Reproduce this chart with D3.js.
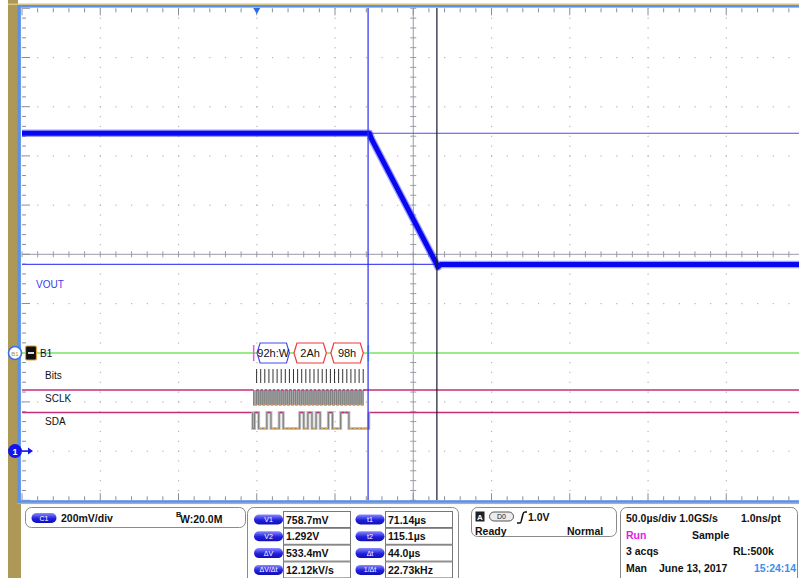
<!DOCTYPE html>
<html>
<head>
<meta charset="utf-8">
<script src="https://cdn.jsdelivr.net/npm/d3@7"></script>
<style>
body{margin:0;background:#fff}
svg{display:block;font-family:"Liberation Sans",Arial,sans-serif}
</style>
</head>
<body>
<div class="interactive-wrapper"></div>
<script>

// VOUT trace (time in µs, volts)
const voutTime  = [-150, 72.0, 73.4, 114.8, 115.7, 117.6, 350]
const voutVolts = [1.292, 1.292, 1.268, 0.762, 0.748, 0.7587, 0.7587]

const cursorTimes = [71.14, 115.1]
const cursorVolts = [0.7587, 1.292]

// I2C bus B1
const busLabels = ["92h:W", "2Ah", "98h"]
const busColors = ["#4a4af0", "#f03a3a", "#f03a3a"]
const sdaBits = [1,0,0,1,0,0,1,0,0, 0,0,1,0,1,0,1,0,0, 1,0,0,1,1,0,0,0,0]
const busStart = -2.6, firstBit = -1.4, bitPeriod = 2.62, busStop = 71.6

const measLeft  = [["V1", "758.7mV"], ["V2", "1.292V"], ["ΔV", "533.4mV"], ["ΔV/Δt", "12.12kV/s"]]
const measRight = [["t1", "71.14µs"], ["t2", "115.1µs"], ["Δt", "44.0µs"], ["1/Δt", "22.73kHz"]]

const timeTicks = d3.range(0, 11).map(i => -150 + i * 50)
const voltTicks = d3.range(0, 11).map(i => -0.2 + i * 0.2)

let width = 799
let height = 578

let x = d3.scaleLinear().domain([-150, 350]).range([22, 804.5])
let y = d3.scaleLinear().domain([-0.2, 1.8]).range([500.3, 8.3])

let svg = d3.select(".interactive-wrapper").append('svg')
.attr('width', width)
.attr('height', height)

let defs = svg.append('defs')
let grad = defs.append('linearGradient').attr('id', 'pill').attr('x1', 0).attr('y1', 0).attr('x2', 0).attr('y2', 1)
grad.append('stop').attr('offset', '0%').attr('stop-color', '#8a8aff')
grad.append('stop').attr('offset', '55%').attr('stop-color', '#2020e0')
grad.append('stop').attr('offset', '100%').attr('stop-color', '#1010b0')

// frame
svg.append('rect').attr('x', 8).attr('y', 0).attr('width', 10).attr('height', height).style('fill', '#ae9858')
svg.append('rect').attr('x', 8).attr('y', 503).attr('width', 13).attr('height', 75).style('fill', '#ae9858')
svg.append('rect').attr('x', 8).attr('y', 3.5).attr('width', width).attr('height', 1.6).style('fill', '#d6c582')
svg.append('rect').attr('x', 17).attr('y', 502.5).attr('width', width).attr('height', 1.6).style('fill', '#d9a860')

let grid = svg.append('g')

let minorT = d3.range(0, 51).map(i => -150 + i * 10)
let minorV = d3.range(0, 51).map(i => -0.2 + i * 0.04)

// dotted rows / columns
timeTicks.slice(1, -1).filter(t => t !== 100).forEach(t => {
	grid.selectAll(null)
	.data(minorV)
	.enter()
	.append('rect')
	.attr('x', x(t) - 0.5)
	.attr('y', d => y(d) - 0.5)
	.attr('width', 1.2)
	.attr('height', 1.2)
	.style('fill', '#b4b4bc')
})

voltTicks.slice(1, -1).filter(v => Math.abs(v - 0.8) > 0.01).forEach(v => {
	grid.selectAll(null)
	.data(minorT)
	.enter()
	.append('rect')
	.attr('x', d => x(d) - 0.5)
	.attr('y', y(v) - 0.5)
	.attr('width', 1.2)
	.attr('height', 1.2)
	.style('fill', '#b4b4bc')
})

// centre cross
grid.append('line').attr('x1', x(-150)).attr('x2', x(350)).attr('y1', y(0.8)).attr('y2', y(0.8)).style('stroke', '#9a9ca6')
grid.append('line').attr('x1', x(100)).attr('x2', x(100)).attr('y1', y(1.8)).attr('y2', y(-0.2)).style('stroke', '#9a9ca6')

grid.selectAll('.ct')
.data(minorT)
.enter()
.append('line')
.attr('x1', d => x(d)).attr('x2', d => x(d))
.attr('y1', y(0.8) - 3).attr('y2', y(0.8) + 3)
.style('stroke', '#9a9ca6')

grid.selectAll('.cv')
.data(minorV)
.enter()
.append('line')
.attr('x1', x(100) - 3).attr('x2', x(100) + 3)
.attr('y1', d => y(d)).attr('y2', d => y(d))
.style('stroke', '#9a9ca6')

// border ticks
let isMajorT = d => Math.abs((d + 150) % 50) < 0.01
let isMajorV = d => Math.abs(Math.round(d * 5) - d * 5) < 0.01

grid.selectAll('.tt')
.data(minorT)
.enter()
.append('line')
.attr('x1', d => x(d)).attr('x2', d => x(d))
.attr('y1', y(1.8)).attr('y2', d => y(1.8) + (isMajorT(d) ? 7 : 4))
.style('stroke', '#8a8e98')

grid.selectAll('.bt')
.data(minorT)
.enter()
.append('line')
.attr('x1', d => x(d)).attr('x2', d => x(d))
.attr('y1', y(-0.2)).attr('y2', d => y(-0.2) - (isMajorT(d) ? 7 : 4))
.style('stroke', '#8a8e98')

grid.selectAll('.lt')
.data(minorV)
.enter()
.append('line')
.attr('x1', x(-150)).attr('x2', d => x(-150) + (isMajorV(d) ? 8 : 4))
.attr('y1', d => y(d)).attr('y2', d => y(d))
.style('stroke', '#8a8e98')

// blue graticule border
svg.append('rect').attr('x', 17.5).attr('y', 5).attr('width', width).attr('height', 2.6).style('fill', '#5a92ea')
svg.append('rect').attr('x', 17.5).attr('y', 5).attr('width', 3.4).attr('height', 498).style('fill', '#5a92ea')
svg.append('rect').attr('x', 17.5).attr('y', 500.2).attr('width', width).attr('height', 2.6).style('fill', '#5a92ea')

// cursors
svg.selectAll('.hc')
.data(cursorVolts)
.enter()
.append('line')
.attr('x1', x(-150)).attr('x2', width)
.attr('y1', d => y(d)).attr('y2', d => y(d))
.style('stroke', '#4c4cf4')
.style('stroke-width', 1.2)

// VOUT trace
let trace = voutTime.map((t, i) => [t, voutVolts[i]])
let line = d3.line().x(d => x(d[0])).y(d => y(d[1]))

svg.append('path')
.attr('d', line(trace))
.style('fill', 'none')
.style('stroke', '#2a2aff')
.style('stroke-opacity', 0.45)
.style('stroke-width', 7.5)
.style('stroke-linejoin', 'round')

svg.append('path')
.attr('d', line(trace))
.style('fill', 'none')
.style('stroke', '#0808f0')
.style('stroke-width', 5)
.style('stroke-linejoin', 'round')

svg.append('text').attr('x', 36).attr('y', 288).text('VOUT')
.style('font-size', '10px').style('fill', '#3a3af0')

// bus B1
let busY = 353
let bitX = i => x(firstBit + i * bitPeriod)

svg.append('line').attr('x1', x(-150)).attr('x2', width).attr('y1', busY).attr('y2', busY)
.style('stroke', '#9aea8a').style('stroke-width', 2)

svg.append('line').attr('x1', x(busStart) + 1).attr('x2', x(busStart) + 1).attr('y1', busY - 8).attr('y2', busY + 8)
.style('stroke', '#e858e8').style('stroke-width', 1.5)
svg.append('line').attr('x1', x(busStop) - 0.5).attr('x2', x(busStop) - 0.5).attr('y1', busY - 8).attr('y2', busY + 8)
.style('stroke', '#6ee8f0').style('stroke-width', 2)

busLabels.forEach((label, j) => {
	let x0 = bitX(j * 9) + 2.5
	let x1 = bitX(j * 9 + 9) - 2
	let c = 3
	let g = svg.append('g')
	g.append('path')
	.attr('d', `M${x0},${busY} L${x0 + c},${busY - 10} L${x1 - c},${busY - 10} L${x1},${busY} L${x1 - c},${busY + 10} L${x0 + c},${busY + 10} Z`)
	.style('fill', '#fff')
	.style('stroke', busColors[j])
	.style('stroke-width', 1.2)
	g.append('text')
	.attr('x', (x0 + x1) / 2).attr('y', busY + 4)
	.attr('text-anchor', 'middle')
	.text(label)
	.style('font-size', '11px')
	.style('fill', '#111')
})

// Bits row
svg.selectAll('.bit')
.data(sdaBits)
.enter()
.append('line')
.attr('x1', (d, i) => bitX(i + 0.5)).attr('x2', (d, i) => bitX(i + 0.5))
.attr('y1', 369).attr('y2', 383)
.style('stroke', '#333')
.style('stroke-width', 1)

// SCLK
let sclHi = 390, sclLo = 405
let sdaHi = 412.5, sdaLo = 428.5
let magenta = '#c42c7c', orange = '#e3a64a', gray = '#808080'

svg.append('line').attr('x1', x(-150)).attr('x2', x(busStart + 0.6)).attr('y1', sclHi).attr('y2', sclHi).style('stroke', magenta).style('stroke-width', 1.5)
svg.append('line').attr('x1', bitX(sdaBits.length - 0.5)).attr('x2', width).attr('y1', sclHi).attr('y2', sclHi).style('stroke', magenta).style('stroke-width', 1.5)

let sclPts = [[x(busStart + 0.6), sclHi], [x(busStart + 0.6), sclLo]]
sdaBits.forEach((b, i) => {
	let xm = bitX(i + 0.5), xe = bitX(i + 1)
	sclPts.push([xm, sclLo], [xm, sclHi])
	if (i < sdaBits.length - 1) sclPts.push([xe, sclHi], [xe, sclLo])
})
svg.append('rect')
.attr('x', x(busStart + 0.6)).attr('y', sclHi)
.attr('width', bitX(sdaBits.length - 0.5) - x(busStart + 0.6)).attr('height', sclLo - sclHi)
.style('fill', '#a8a8a8')
svg.append('path')
.attr('d', d3.line()(sclPts))
.style('fill', 'none').style('stroke', gray).style('stroke-width', 1.1)

sdaBits.forEach((b, i) => {
	svg.append('line').attr('x1', bitX(i + 0.5)).attr('x2', bitX(i + 1)).attr('y1', sclHi).attr('y2', sclHi)
	.style('stroke', magenta).style('stroke-width', 1.3)
	svg.append('line').attr('x1', bitX(i)).attr('x2', bitX(i + 0.5)).attr('y1', sclLo).attr('y2', sclLo)
	.style('stroke', orange).style('stroke-width', 1.3)
})

// SDA
svg.append('line').attr('x1', x(-150)).attr('x2', x(busStart)).attr('y1', sdaHi).attr('y2', sdaHi).style('stroke', magenta).style('stroke-width', 1.5)
svg.append('line').attr('x1', x(busStop)).attr('x2', width).attr('y1', sdaHi).attr('y2', sdaHi).style('stroke', magenta).style('stroke-width', 1.5)

let sdaPts = [[x(busStart), sdaHi], [x(busStart), sdaLo]]
let level = 0
sdaBits.forEach((b, i) => {
	let xs = bitX(i)
	let yl = b ? sdaHi : sdaLo
	if (b !== level) sdaPts.push([xs, level ? sdaHi : sdaLo], [xs, yl])
	sdaPts.push([bitX(i + 1), yl])
	level = b
})
sdaPts.push([x(busStop), sdaLo], [x(busStop), sdaHi])

svg.append('path')
.attr('d', d3.line()(sdaPts))
.style('fill', 'none').style('stroke', '#c4c4c4').style('stroke-width', 3)
svg.append('path')
.attr('d', d3.line()(sdaPts))
.style('fill', 'none').style('stroke', gray).style('stroke-width', 1.2)

sdaBits.forEach((b, i) => {
	svg.append('line').attr('x1', bitX(i) + 0.8).attr('x2', bitX(i + 1) - 0.8)
	.attr('y1', b ? sdaHi : sdaLo).attr('y2', b ? sdaHi : sdaLo)
	.style('stroke', b ? magenta : orange).style('stroke-width', 1.4)
})
svg.append('line').attr('x1', bitX(sdaBits.length)).attr('x2', x(busStop)).attr('y1', sdaLo).attr('y2', sdaLo)
.style('stroke', orange).style('stroke-width', 1.4)

// vertical cursors drawn over the bus
svg.append('line').attr('x1', x(cursorTimes[0])).attr('x2', x(cursorTimes[0])).attr('y1', 8).attr('y2', 500)
.style('stroke', '#2a2af0').style('stroke-width', 1.2)
svg.append('line').attr('x1', x(cursorTimes[1])).attr('x2', x(cursorTimes[1])).attr('y1', 8).attr('y2', 500)
.style('stroke', '#18182c').style('stroke-width', 1.2)

// row labels
let labels = [["Bits", 379], ["SCLK", 402], ["SDA", 425]]
svg.selectAll('.rl')
.data(labels)
.enter()
.append('text')
.attr('x', 45).attr('y', d => d[1])
.text(d => d[0])
.style('font-size', '10px').style('fill', '#111')

svg.append('text').attr('x', 40).attr('y', 357).text('B1').style('font-size', '10px').style('fill', '#111')

// B1 handle
svg.append('circle').attr('cx', 15).attr('cy', busY).attr('r', 6.5).style('fill', '#fff').style('stroke', '#3a6ff0').style('stroke-width', 1.6)
svg.append('text').attr('x', 15).attr('y', busY + 2.5).attr('text-anchor', 'middle').text('B1').style('font-size', '6px').style('fill', '#a09040')
svg.append('rect').attr('x', 25.5).attr('y', 346).attr('width', 11).attr('height', 14).attr('rx', 1.5)
.style('fill', '#111').style('stroke', '#e0a040').style('stroke-width', 1.2)
svg.append('line').attr('x1', 28).attr('x2', 34).attr('y1', busY).attr('y2', busY).style('stroke', '#ddd').style('stroke-width', 2)

// channel 1 ground marker
svg.append('circle').attr('cx', 15).attr('cy', y(0)).attr('r', 7).style('fill', '#1414f0')
svg.append('text').attr('x', 15).attr('y', y(0) + 3.5).attr('text-anchor', 'middle').text('1')
.style('font-size', '9px').style('font-weight', 'bold').style('fill', '#fff')
svg.append('line').attr('x1', 22).attr('x2', 29).attr('y1', y(0)).attr('y2', y(0)).style('stroke', '#1414f0').style('stroke-width', 1.5)
svg.append('path').attr('d', `M28,${y(0) - 3.5} L33,${y(0)} L28,${y(0) + 3.5} Z`).style('fill', '#1414f0')

// trigger position marker
svg.append('path').attr('d', `M${x(0) - 3.5},8 L${x(0) + 3.5},8 L${x(0)},14 Z`).style('fill', '#2a6af0')

// bottom panels
let panel = (px, py, pw, ph) => svg.append('rect')
.attr('x', px).attr('y', py).attr('width', pw).attr('height', ph).attr('rx', 6)
.style('fill', '#fff').style('stroke', '#8a8a8a').style('stroke-width', 1)

let pill = (cx, cy, w, label) => {
	svg.append('rect').attr('x', cx - w / 2).attr('y', cy - 5).attr('width', w).attr('height', 10).attr('rx', 5)
	.style('fill', 'url(#pill)')
	svg.append('text').attr('x', cx).attr('y', cy + 2.5).attr('text-anchor', 'middle').text(label)
	.style('font-size', '7px').style('fill', '#fff')
}

let bold = sel => sel.style('font-size', '10.5px').style('font-weight', 'bold').style('fill', '#111')

panel(25.5, 507.5, 220, 20)
pill(44, 518, 25, 'C1')
bold(svg.append('text').attr('x', 61).attr('y', 522).text('200mV/div'))
svg.append('text').attr('x', 176).attr('y', 517).text('B').style('font-size', '7.5px').style('font-weight', 'bold').style('fill', '#111')
bold(svg.append('text').attr('x', 180).attr('y', 523).text('W:20.0M'))

panel(247.5, 507.5, 211, 90)
measLeft.forEach((m, i) => {
	let ry = 511.5 + i * 16.8
	pill(268.5, ry + 8, 29, m[0])
	svg.append('rect').attr('x', 283.5).attr('y', ry).attr('width', 67).attr('height', 16)
	.style('fill', '#fff').style('stroke', '#777')
	bold(svg.append('text').attr('x', 286).attr('y', ry + 12).text(m[1]))
})
measRight.forEach((m, i) => {
	let ry = 511.5 + i * 16.8
	pill(370, ry + 8, 29, m[0])
	svg.append('rect').attr('x', 385.5).attr('y', ry).attr('width', 67).attr('height', 16)
	.style('fill', '#fff').style('stroke', '#777')
	bold(svg.append('text').attr('x', 388).attr('y', ry + 12).text(m[1]))
})

panel(471.5, 507.5, 145, 29)
svg.append('rect').attr('x', 475.5).attr('y', 511.5).attr('width', 9).attr('height', 10).style('fill', '#222')
svg.append('text').attr('x', 480).attr('y', 520).attr('text-anchor', 'middle').text('A')
.style('font-size', '8px').style('font-weight', 'bold').style('fill', '#fff')
svg.append('rect').attr('x', 489.5).attr('y', 512).attr('width', 24).attr('height', 9).attr('rx', 4.5)
.style('fill', '#ececec').style('stroke', '#555')
svg.append('text').attr('x', 501.5).attr('y', 519).attr('text-anchor', 'middle').text('D0').style('font-size', '7px').style('fill', '#222')
svg.append('path').attr('d', 'M517,523 L520,523 Q521,523 521.5,520 L523,514 Q523.5,512 525,512 L527,512')
.style('fill', 'none').style('stroke', '#111').style('stroke-width', 1.5)
bold(svg.append('text').attr('x', 528).attr('y', 521).text('1.0V'))
bold(svg.append('text').attr('x', 475).attr('y', 535).text('Ready'))
bold(svg.append('text').attr('x', 567).attr('y', 535).text('Normal'))

panel(620.5, 507.5, 177, 90)
let acq = [
	["50.0µs/div 1.0GS/s", 626, 522, '#111'], ["1.0ns/pt", 741, 522, '#111'],
	["Run", 626, 539, '#e020e0'], ["Sample", 692, 539, '#111'],
	["3 acqs", 626, 555, '#111'], ["RL:500k", 733, 555, '#111'],
	["Man", 626, 572, '#111'], ["June 13, 2017", 659, 572, '#111'], ["15:24:14", 754, 572, '#3a8ef0']
]
svg.selectAll('.acq')
.data(acq)
.enter()
.append('text')
.attr('x', d => d[1]).attr('y', d => d[2])
.text(d => d[0])
.style('font-size', '10.5px').style('font-weight', 'bold').style('fill', d => d[3])

</script>
</body>
</html>
